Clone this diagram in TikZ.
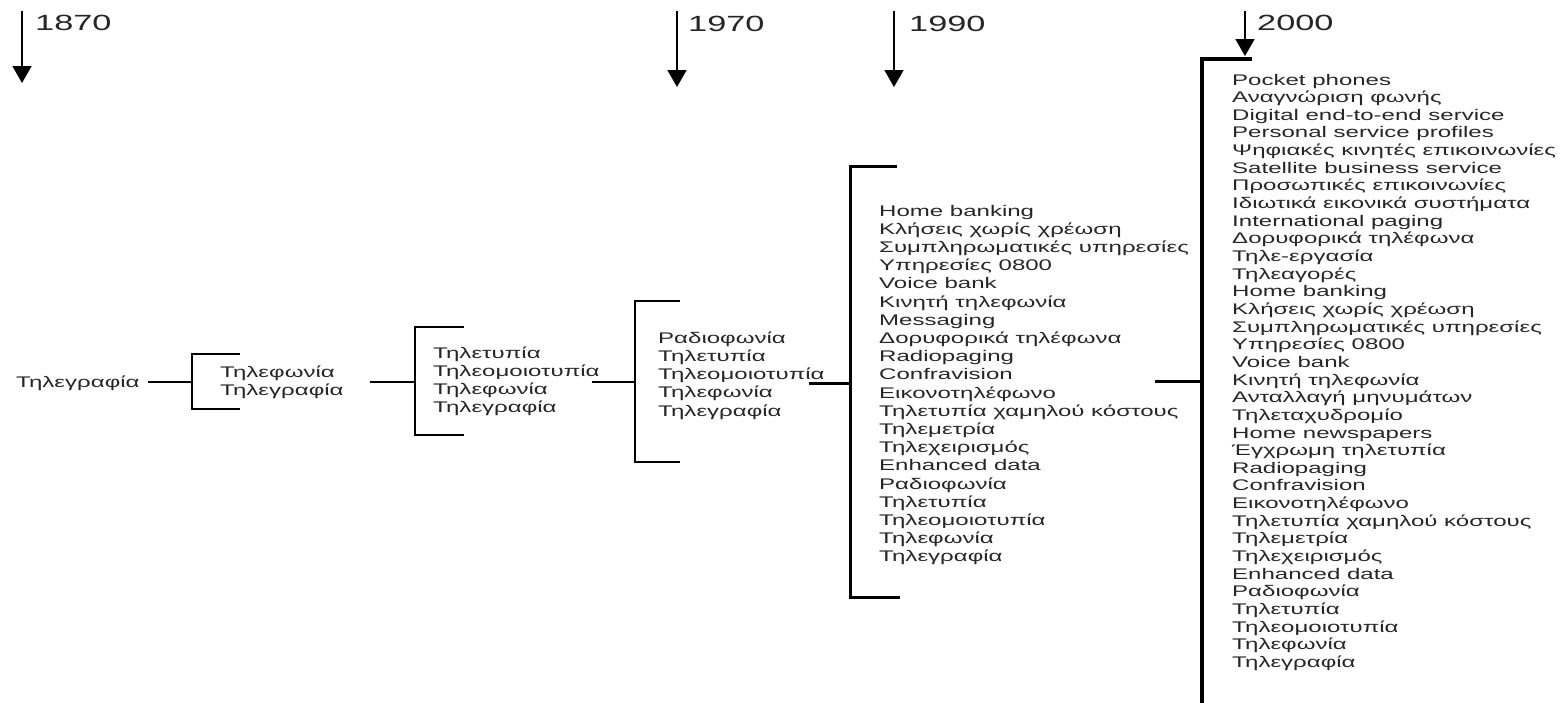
\documentclass[tikz,border=0pt]{standalone}
\usepackage{fontspec}
\setmainfont[FakeStretch=1.56]{Liberation Sans}
\usetikzlibrary{arrows.meta}
\begin{document}
\begin{tikzpicture}[x=1pt,y=-1pt,
  item/.style={anchor=base west, inner sep=0pt, font=\fontsize{15.4}{17}\selectfont, text=black!85},
  year/.style={anchor=base west, inner sep=0pt, font=\fontsize{22}{24}\selectfont, text=black!85},
  yarrow/.style={line width=1.6pt, -{Triangle[width=19pt,length=17pt]}},
  thin/.style={line width=1.6pt},
  mid/.style={line width=2pt},
  thick/.style={line width=3pt},
  heavy/.style={line width=4.5pt}]
\useasboundingbox (0,0) rectangle (1565,702);

% year arrows
\coordinate (a1s) at (22,11);  \coordinate (a1e) at (22,83);
\coordinate (a2s) at (677,11); \coordinate (a2e) at (677,87);
\coordinate (a3s) at (894,11); \coordinate (a3e) at (894,87);
\coordinate (a4s) at (1245,11); \coordinate (a4e) at (1245,56);
\draw[yarrow] (a1s) -- (a1e);
\draw[yarrow] (a2s) -- (a2e);
\draw[yarrow] (a3s) -- (a3e);
\draw[yarrow] (a4s) -- (a4e);
\node[year] (y1) at (35,30) {1870};
\node[year] (y2) at (688,31) {1970};
\node[year] (y3) at (909,31) {1990};
\node[year] (y4) at (1257,30) {2000};

% root
\node[item] (t0) at (16,387) {Τηλεγραφία};
\coordinate (l0s) at (148,382); \coordinate (l0e) at (192,382);
\draw[thin] (l0s) -- (l0e);

% bracket 1
\coordinate (b1a) at (240,354); \coordinate (b1b) at (192,354);
\coordinate (b1c) at (192,409); \coordinate (b1d) at (240,409);
\draw[thin] (b1a) -- (b1b) -- (b1c) -- (b1d);
\node[item] (t1a) at (220,377) {Τηλεφωνία};
\node[item] (t1b) at (220,395) {Τηλεγραφία};
\coordinate (l1s) at (370,382); \coordinate (l1e) at (415,382);
\draw[thin] (l1s) -- (l1e);

% bracket 2
\coordinate (b2a) at (464,327); \coordinate (b2b) at (415,327);
\coordinate (b2c) at (415,435); \coordinate (b2d) at (464,435);
\draw[mid] (b2a) -- (b2b) -- (b2c) -- (b2d);
\foreach \t [count=\i] in {Τηλετυπία,Τηλεομοιοτυπία,Τηλεφωνία,Τηλεγραφία}
  \node[item] (t2-\i) at (433,{358+(\i-1)*18}) {\t};
\coordinate (l2s) at (592,382); \coordinate (l2e) at (635,382);
\draw[thin] (l2s) -- (l2e);

% bracket 3
\coordinate (b3a) at (680,301); \coordinate (b3b) at (635,301);
\coordinate (b3c) at (635,462); \coordinate (b3d) at (680,462);
\draw[thin] (b3a) -- (b3b) -- (b3c) -- (b3d);
\foreach \t [count=\i] in {Ραδιοφωνία,Τηλετυπία,Τηλεομοιοτυπία,Τηλεφωνία,Τηλεγραφία}
  \node[item] (t3-\i) at (658,{343+(\i-1)*18.25}) {\t};
\coordinate (l3s) at (809,383); \coordinate (l3e) at (850,383);
\draw[thick] (l3s) -- (l3e);

% bracket 4
\coordinate (b4a) at (897,166); \coordinate (b4b) at (850,166);
\coordinate (b4c) at (850,597); \coordinate (b4d) at (900,597);
\draw[thick] (b4a) -- (b4b) -- (b4c) -- (b4d);
\foreach \t [count=\i] in {Home banking,Κλήσεις χωρίς χρέωση,Συμπληρωματικές υπηρεσίες,Υπηρεσίες 0800,Voice bank,Κινητή τηλεφωνία,Messaging,Δορυφορικά τηλέφωνα,Radiopaging,Confravision,Εικονοτηλέφωνο,Τηλετυπία χαμηλού κόστους,Τηλεμετρία,Τηλεχειρισμός,Enhanced data,Ραδιοφωνία,Τηλετυπία,Τηλεομοιοτυπία,Τηλεφωνία,Τηλεγραφία}
  \node[item] (t4-\i) at (879,{216+(\i-1)*18.2}) {\t};
\coordinate (l4s) at (1155,381); \coordinate (l4e) at (1202,381);
\draw[thick] (l4s) -- (l4e);

% bracket 5
\coordinate (b5a) at (1252,59); \coordinate (b5b) at (1202,59);
\coordinate (b5c) at (1202,710);
\draw[heavy] (b5a) -- (b5b) -- (b5c);
\foreach \t [count=\i] in {Pocket phones,Αναγνώριση φωνής,Digital end-to-end service,Personal service profiles,Ψηφιακές κινητές επικοινωνίες,Satellite business service,Προσωπικές επικοινωνίες,Ιδιωτικά εικονικά συστήματα,International paging,Δορυφορικά τηλέφωνα,Τηλε-εργασία,Τηλεαγορές,Home banking,Κλήσεις χωρίς χρέωση,Συμπληρωματικές υπηρεσίες,Υπηρεσίες 0800,Voice bank,Κινητή τηλεφωνία,Ανταλλαγή μηνυμάτων,Τηλεταχυδρομίο,Home newspapers,Έγχρωμη τηλετυπία,Radiopaging,Confravision,Εικονοτηλέφωνο,Τηλετυπία χαμηλού κόστους,Τηλεμετρία,Τηλεχειρισμός,Enhanced data,Ραδιοφωνία,Τηλετυπία,Τηλεομοιοτυπία,Τηλεφωνία,Τηλεγραφία}
  \node[item] (t5-\i) at (1232,{85+(\i-1)*17.65}) {\t};
\end{tikzpicture}
\end{document}
